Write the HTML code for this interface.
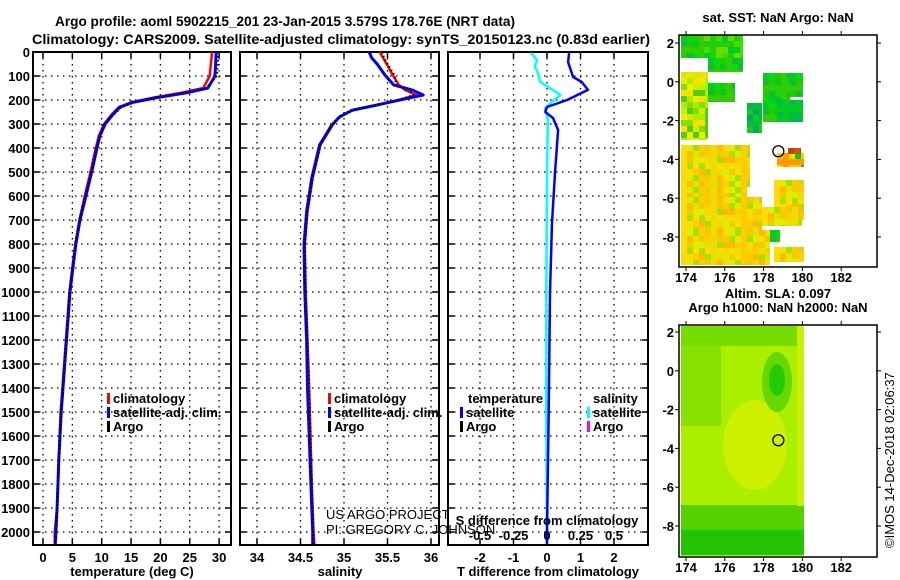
<!DOCTYPE html>
<html><head><meta charset="utf-8"><style>
body{margin:0;background:#fff;}
svg{display:block;font-family:"Liberation Sans",sans-serif;}
.tk{font-size:13px;font-weight:bold;}
</style></head><body>
<svg id="c" width="900" height="580" viewBox="0 0 900 580"></svg>
<script>
// ---- data ----
const depthT = [0,100,150,170,190,210,230,260,300,350,400,500,600,700,800,900,1000,1400,1500,1700,1900,2000,2050];
const tempSat = [29.5,29.3,28.1,24.5,19.4,15.3,13.1,11.9,10.6,9.7,9.2,8.3,7.3,6.3,5.6,5.1,4.6,3.4,3.1,2.7,2.4,2.2,2.1];
const tempClim = [28.8,28.4,27.3,23.5,18.8,15.0,12.9,11.7,10.4,9.5,9.0,8.1,7.1,6.2,5.5,5.0,4.5,3.3,3.0,2.7,2.4,2.0,2.0];
const tempArgo = [29.9,29.6,27.8,24.0,19.2,15.4,13.3,12.1,10.4,9.6,9.1,8.2,7.2,6.2,5.5,5.0,4.5,3.4,3.1,2.7,2.4,2.2,2.1];
const depthS = [0,25,50,96,137,158,179,200,221,242,270,304,387,525,665,804,1000,1200,1400,1800,2000,2050];
const salSat = [35.29,35.32,35.38,35.47,35.57,35.78,35.91,35.64,35.38,35.10,34.95,34.86,34.72,34.63,34.57,34.54,34.55,34.57,34.58,34.62,34.64,34.64];
const salClim = [35.41,35.45,35.49,35.56,35.63,35.70,35.83,35.64,35.38,35.10,34.95,34.87,34.73,34.64,34.58,34.55,34.56,34.58,34.60,34.63,34.65,34.66];
const salArgo = [35.44,35.46,35.50,35.58,35.60,35.74,35.80,35.62,35.36,35.08,34.94,34.86,34.73,34.64,34.58,34.55,34.56,34.58,34.60,34.63,34.65,34.65];
const depthD = [4,42,104,125,158,200,229,250,275,325,504,712,1004,1500,2000,2050];
const tDiff = [0.66,0.63,0.78,1.04,1.22,0.60,0.0,-0.05,0.18,0.33,0.24,0.15,0.09,0.05,0.0,0.0];
const depthSD = [4,33,60,88,125,150,179,208,235,283,500,1000,1500,2050];
const sDiff = [-0.12,-0.075,-0.09,-0.067,-0.05,0.022,0.10,0.037,-0.015,0.007,0.0,-0.005,-0.005,0.0];
const depthTicks = [0,100,200,300,400,500,600,700,800,900,1000,1100,1200,1300,1400,1500,1600,1700,1800,1900,2000];
const tTicks = [0,5,10,15,20,25,30];
const sTicks = [34,34.5,35,35.5,36];
const tdTicks = [-2,-1,0,1,2];
const sdTicks = [-0.5,-0.25,0,0.25,0.5];
const latTicks = [2,0,-2,-4,-6,-8];
const lonTicks = [174,176,178,180,182];
const floatLon = 178.76, floatLat = -3.58;

const NS="http://www.w3.org/2000/svg";
const svg=document.getElementById('c');
function el(t,a,p){const e=document.createElementNS(NS,t);for(const k in a)e.setAttribute(k,a[k]);(p||svg).appendChild(e);return e;}
function txt(x,y,s,a,p){const e=el('text',Object.assign({x:x,y:y},a||{}),p);e.textContent=s;return e;}

const Y0=52, Y1=545;
const yD=d=>Y0+d*0.24;
const xT=v=>43+v*5.87;
const xS=v=>257+(v-34)*87;
const xTD=v=>547+v*33.5;
const xSD=v=>547+v*134;

// titles
let t1=txt(55,26,'Argo profile: aoml 5902215_201 23-Jan-2015 3.579S 178.76E (NRT data)',{'font-size':'14','font-weight':'bold',textLength:'460',lengthAdjust:'spacingAndGlyphs'});

let t2=txt(32,44,'Climatology: CARS2009. Satellite-adjusted climatology: synTS_20150123.nc (0.83d earlier)',{'font-size':'14','font-weight':'bold',textLength:'618',lengthAdjust:'spacingAndGlyphs'});


function panel(name,x0,x1,xf,ticks,labelFmt){
  const g=el('g',{});
  
  
  depthTicks.forEach(d=>{const y=yD(d);
    el('line',{x1:x0,x2:x1,y1:y,y2:y,stroke:'#000','stroke-width':1.3,'stroke-dasharray':'1.5 4.5'},g);
    el('line',{x1:x0,x2:x0+6,y1:y,y2:y,stroke:'#000','stroke-width':1.5},g);
    el('line',{x1:x1-6,x2:x1,y1:y,y2:y,stroke:'#000','stroke-width':1.5},g);
  });
  ticks.forEach(v=>{const x=xf(v);
    el('line',{x1:x,x2:x,y1:Y0,y2:Y1,stroke:'#000','stroke-width':1.3,'stroke-dasharray':'1.5 4.5'},g);
    el('line',{x1:x,x2:x,y1:Y1-6,y2:Y1,stroke:'#000','stroke-width':1.5},g);
    el('line',{x1:x,x2:x,y1:Y0,y2:Y0+6,stroke:'#000','stroke-width':1.5},g);
    if(labelFmt){const l=txt(x,562,labelFmt(v),{'class':'tk','text-anchor':'middle'},g);}
  });
  el('rect',{x:x0,y:Y0,width:x1-x0,height:Y1-Y0,fill:'none',stroke:'#000','stroke-width':2},g);
  return g;
}
function line(name,xs,ds,xf,color,w,g,dash){
  const pts=xs.map((v,i)=>xf(v).toFixed(1)+','+yD(ds[i]).toFixed(1)).join(' ');
  const p=el('polyline',{points:pts,fill:'none',stroke:color,'stroke-width':w,'stroke-linejoin':'round'},g);
  if(dash)p.setAttribute('stroke-dasharray',dash);
  
  
  return p;
}
function legendItem(x,y,color,label,g,nm){
  el('rect',{x:x,y:y-10,width:3,height:11,fill:color},g);
  const t=txt(x+6,y,label,{'class':'tk'},g);
  
  
}

// panel 1
const g1=panel('temperature-panel',33,231,xT,tTicks,v=>String(v));
depthTicks.forEach(d=>{const l=txt(30,yD(d)+5,String(d),{'class':'tk','text-anchor':'end'});});
line('temp-climatology-line',tempClim,depthT,xT,'#f00',2.5,g1);
line('temp-satellite-line',tempSat,depthT,xT,'#00f',3,g1);
line('temp-argo-line',tempArgo,depthT,xT,'#000',2,g1,'1.5 2.5');
legendItem(107,403,'#f00','climatology',g1,'legend-climatology');
legendItem(107,417,'#00f','satellite-adj. clim.',g1,'legend-satellite');
legendItem(107,431,'#000','Argo',g1,'legend-argo');
let xt1=txt(132,576,'temperature (deg C)',{'class':'tk','text-anchor':'middle'});


// panel 2
const g2=panel('salinity-panel',240,439,xS,sTicks,v=>String(v));
line('sal-climatology-line',salClim,depthS,xS,'#f00',2.5,g2);
line('sal-satellite-line',salSat,depthS,xS,'#00f',3,g2);
line('sal-argo-line',salArgo,depthS,xS,'#000',2,g2,'1.5 2.5');
legendItem(328,403,'#f00','climatology',g2,'legend-climatology-2');
legendItem(328,417,'#00f','satellite-adj. clim.',g2,'legend-satellite-2');
legendItem(328,431,'#000','Argo',g2,'legend-argo-2');
txt(326,519,'US ARGO PROJECT',{'font-size':'13',fill:'#000'},g2);
txt(326,534,'PI: GREGORY C. JOHNSON',{'font-size':'13',fill:'#000'},g2);
let xt2=txt(340,576,'salinity',{'class':'tk','text-anchor':'middle'});


// panel 3
const g3=panel('difference-panel',448,648,xTD,tdTicks,v=>String(v));
line('sal-diff-satellite-line',sDiff,depthSD,xSD,'#0ff',2.5,g3);
line('temp-diff-satellite-line',tDiff,depthD,xTD,'#00f',2.5,g3);
txt(468,403,'temperature',{'class':'tk'},g3);
legendItem(460,417,'#00f','satellite',g3,'legend-temp-satellite');
legendItem(460,431,'#000','Argo',g3,'legend-temp-argo');
txt(593,403,'salinity',{'class':'tk'},g3);
legendItem(587,417,'#0ff','satellite',g3,'legend-sal-satellite');
legendItem(587,431,'#f0f','Argo',g3,'legend-sal-argo');
txt(547,525,'S difference from climatology',{'class':'tk','text-anchor':'middle'},g3);
sdTicks.forEach(v=>txt(xSD(v),540,String(v),{'class':'tk','text-anchor':'middle'},g3));
let xt3=txt(548,576,'T difference from climatology',{'class':'tk','text-anchor':'middle'});


// ---- maps ----
const MX0=679,MX1=877;
const lonX=l=>686+(l-174)*19.4;
function cells(g,x0,x1,y0,y1,pal){
  let i=0;
  for(let y=y0;y<y1;y+=6){let j=0;for(let x=x0;x<x1;x+=6){
    const c=pal[(i*7+j*3+((i*j)%5))%pal.length];
    el('rect',{x:x,y:y,width:Math.min(6,x1-x),height:Math.min(6,y1-y),fill:c},g);j++;}i++;}
}
function mapFrame(name,top,bot,lat2y,titleLines){
  const g=el('g',{});
  
  
  const latY=l=>lat2y+(2-l)*19.4;
  return {g,latY,finish:()=>{
    el('rect',{x:MX0,y:top,width:MX1-MX0,height:bot-top,fill:'none',stroke:'#000','stroke-width':1.5},g);
    latTicks.forEach(l=>{const y=latY(l);
      el('line',{x1:MX0-4,x2:MX0,y1:y,y2:y,stroke:'#000'},g);
      el('line',{x1:MX1,x2:MX1+4,y1:y,y2:y,stroke:'#000'},g);
      txt(674,y+5,String(l),{'class':'tk','text-anchor':'end'},g);});
    lonTicks.forEach(l=>{const x=lonX(l);
      el('line',{x1:x,x2:x,y1:top-4,y2:top,stroke:'#000'},g);
      el('line',{x1:x,x2:x,y1:bot,y2:bot+4,stroke:'#000'},g);
      txt(x,bot+15,String(l),{'class':'tk','text-anchor':'middle'},g);});
    const cy=latY(floatLat),cx=lonX(floatLon);
    const c=el('circle',{cx:cx,cy:cy,r:5.5,fill:'none',stroke:'#000','stroke-width':1.3},g);
    
    
    titleLines.forEach((s,i)=>txt(778,top-13-(titleLines.length-1-i)*14,s,{'class':'tk','text-anchor':'middle'},g));
  }};
}
// SST map
const gr=['#00cc22','#22cc00','#11bb33','#00dd11','#33cc00'];
const lime=['#66dd00','#00cc22','#44dd00','#22cc11'];
const yg=['#ccee00','#eeee00','#88dd00','#ffdd00','#55cc11','#aaee00'];
const ye=['#ffdd00','#eedd00','#ffcc00','#ddee00','#ffbb00','#eecc00','#aadd00'];
const m1=mapFrame('sst-map',35,267,43,['sat. SST: NaN Argo: NaN']);
[[681,704,35,58,gr],[704,743,35,58,lime],[708,743,58,72,gr],[681,708,72,140,yg],[708,735,83,102,gr],
 [747,762,103,133,['#00bb44','#11cc22','#00aa55']],[763,790,73,122,gr],[790,803,73,97,gr],[777,803,100,122,['#00bb44','#00cc22']],
 [681,750,145,187,ye],[681,747,187,197,ye],[681,762,197,230,ye],[681,770,230,265,ye],
 [777,804,153,167,['#ffcc00','#00cc22','#ffdd00','#ff9900']],[788,801,148,154,['#bb4400','#cc5500']],
 [774,804,180,220,ye],[762,802,207,226,ye],[770,780,230,242,gr],[774,804,247,262,ye]
].forEach(r=>cells(m1.g,r[0],r[1],r[2],r[3],r[4]));
m1.finish();
// SLA map
const m2=mapFrame('sla-map',325,557,332,['Altim. SLA: 0.097','Argo h1000: NaN h2000: NaN']);
el('rect',{x:681,y:326,width:123,height:230,fill:'#aaee00'},m2.g);
el('rect',{x:681,y:326,width:123,height:20,fill:'#77dd00'},m2.g);
el('rect',{x:681,y:346,width:40,height:80,fill:'#88e000'},m2.g);
el('ellipse',{cx:755,cy:445,rx:32,ry:45,fill:'#ccf000'},m2.g);
el('ellipse',{cx:777,cy:382,rx:15,ry:30,fill:'#66d800'},m2.g);
el('ellipse',{cx:777,cy:380,rx:8,ry:16,fill:'#22cc00'},m2.g);
el('rect',{x:681,y:505,width:123,height:50,fill:'#55d000'},m2.g);
el('rect',{x:681,y:530,width:123,height:25,fill:'#22c400'},m2.g);
el('rect',{x:797,y:326,width:7,height:180,fill:'#ccee00'},m2.g);
m2.finish();
let cp=txt(0,0,'©IMOS 14-Dec-2018 02:06:37',{'font-size':'13',transform:'translate(894,548) rotate(-90)'});

</script>
</body></html>
